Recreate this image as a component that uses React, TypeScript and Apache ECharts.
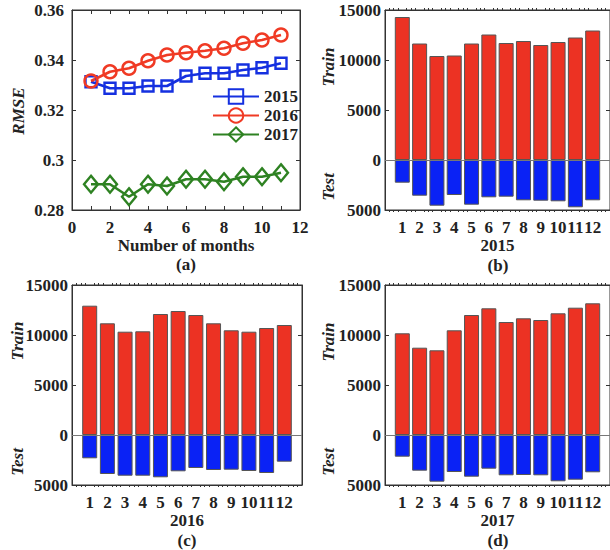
import React, { useEffect, useRef } from "react";
import * as echarts from "echarts";

// ---- Data ----
const lineMonths = [1, 2, 3, 4, 5, 6, 7, 8, 9, 10, 11];
const rmse2015 = [0.3313, 0.3287, 0.3287, 0.3296, 0.3296, 0.3336, 0.3347, 0.3347, 0.336, 0.3369, 0.3387];
const rmse2016 = [0.3316, 0.3353, 0.3367, 0.3397, 0.342, 0.3429, 0.3437, 0.3447, 0.3467, 0.348, 0.35];
const rmse2017 = [0.2903, 0.2903, 0.2853, 0.2903, 0.2896, 0.2923, 0.2923, 0.2913, 0.2933, 0.2933, 0.2949];

const barMonths = [1, 2, 3, 4, 5, 6, 7, 8, 9, 10, 11, 12];
const train2015 = [14300, 11650, 10400, 10450, 11650, 12550, 11700, 11900, 11500, 11800, 12250, 12950];
const test2015 = [2270, 3570, 4570, 3500, 4470, 3730, 3670, 4030, 4070, 4130, 4730, 4030];
const train2016 = [12930, 11170, 10330, 10370, 12100, 12400, 12000, 11170, 10470, 10330, 10700, 11000];
const test2016 = [2330, 3900, 4070, 4070, 4230, 3630, 3300, 3500, 3470, 3600, 3800, 2670];
const train2017 = [10170, 8730, 8470, 10470, 12000, 12670, 11300, 11670, 11500, 12170, 12730, 13170];
const test2017 = [2170, 3570, 4670, 3700, 4170, 3370, 4030, 4000, 4030, 4630, 4470, 3730];

const yearLabels = ["2015", "2016", "2017"];
const panelLabels = ["(a)", "(b)", "(c)", "(d)"];

const FONT = "'Liberation Serif', 'Times New Roman', serif";
const AX = "#333333";
const RED = "#EC3223";
const BLUE = "#0A22F5";

export default function App() {
  const ref = useRef<HTMLDivElement>(null);
  useEffect(() => {
    if (!ref.current) return;
    const chart = echarts.init(ref.current, null, { renderer: "svg" });

    const grids = [
      { left: 72, top: 10, width: 228, height: 200 },
      { left: 385, top: 10, width: 230, height: 200 },
      { left: 72, top: 285, width: 230, height: 200 },
      { left: 385, top: 285, width: 230, height: 200 },
    ].map((g) => ({ ...g, show: true, borderColor: AX, borderWidth: 1 }));

    const labelStyle = { fontFamily: FONT, fontWeight: "bold" as const, fontSize: 17, color: "#222" };
    const xAxes: any[] = [];
    const yAxes: any[] = [];

    // panel a axes
    const aX = { type: "value", min: 0, max: 12, interval: 2 };
    xAxes.push({
      ...aX, gridIndex: 0, position: "bottom",
      name: "Number of months", nameLocation: "middle", nameGap: 25,
      nameTextStyle: { fontFamily: FONT, fontWeight: "bold", fontSize: 17, color: "#222" },
      axisLine: { show: true, onZero: false, lineStyle: { color: AX } },
      axisTick: { show: true, inside: true, length: 4, lineStyle: { color: AX } },
      minorTick: { show: true, splitNumber: 2, length: 4, lineStyle: { color: AX } },
      axisLabel: { ...labelStyle, margin: 9 },
      splitLine: { show: false },
    });
    xAxes.push({
      ...aX, gridIndex: 0, position: "top",
      axisLine: { show: true, onZero: false, lineStyle: { color: AX } },
      axisTick: { show: true, inside: true, length: 4, lineStyle: { color: AX } },
      minorTick: { show: true, splitNumber: 2, length: 4, lineStyle: { color: AX } },
      axisLabel: { show: false },
      splitLine: { show: false },
    });
    const aY = { type: "value", min: 0.28, max: 0.36, interval: 0.02 };
    yAxes.push({
      ...aY, gridIndex: 0, position: "left",
      axisLine: { show: true, onZero: false, lineStyle: { color: AX } },
      axisTick: { show: true, inside: true, length: 4, lineStyle: { color: AX } },
      axisLabel: { ...labelStyle, margin: 8 },
      splitLine: { show: false },
    });
    yAxes.push({
      ...aY, gridIndex: 0, position: "right",
      axisLine: { show: true, onZero: false, lineStyle: { color: AX } },
      axisTick: { show: true, inside: true, length: 4, lineStyle: { color: AX } },
      axisLabel: { show: false },
      splitLine: { show: false },
    });

    // bar panels axes
    for (let g = 1; g <= 3; g++) {
      const bx = { type: "value", min: 0, max: 13, interval: 1 };
      xAxes.push({
        ...bx, gridIndex: g, position: "bottom",
        name: yearLabels[g - 1], nameLocation: "middle", nameGap: 27,
        nameTextStyle: { fontFamily: FONT, fontWeight: "bold", fontSize: 17, color: "#222" },
        axisLine: { show: true, onZero: false, lineStyle: { color: AX } },
        axisTick: { show: false },
        minorTick: { show: true, splitNumber: 4, length: 2, lineStyle: { color: AX } },
        axisLabel: {
          ...labelStyle, margin: 9, showMinLabel: false, showMaxLabel: false,
          formatter: (v: number) => (v >= 1 && v <= 12 ? String(v) : ""),
        },
        splitLine: { show: false },
      });
      xAxes.push({
        ...bx, gridIndex: g, position: "top",
        axisLine: { show: true, onZero: false, lineStyle: { color: AX } },
        axisTick: { show: false },
        minorTick: { show: true, splitNumber: 4, length: 2, lineStyle: { color: AX } },
        axisLabel: { show: false },
        splitLine: { show: false },
      });
      const by = { type: "value", min: -5000, max: 15000, interval: 5000 };
      yAxes.push({
        ...by, gridIndex: g, position: "left",
        axisLine: { show: true, onZero: false, lineStyle: { color: AX } },
        axisTick: { show: true, inside: true, length: 4, lineStyle: { color: AX } },
        axisLabel: { ...labelStyle, margin: 4, formatter: (v: number) => String(Math.abs(v)) },
        splitLine: { show: false },
      });
      yAxes.push({
        ...by, gridIndex: g, position: "right",
        axisLine: { show: true, onZero: false, lineStyle: { color: AX } },
        axisTick: { show: true, inside: true, length: 4, lineStyle: { color: AX } },
        axisLabel: { show: false },
        splitLine: { show: false },
      });
    }

    const lineSeries = (name: string, vals: number[], color: string, symbol: string, size: any) => ({
      type: "line",
      name,
      xAxisIndex: 0,
      yAxisIndex: 0,
      data: lineMonths.map((m, i) => [m, vals[i]]),
      symbol,
      symbolSize: size,
      showAllSymbol: true,
      lineStyle: { color, width: 2.6 },
      itemStyle: { color: "rgba(255,255,255,0)", borderColor: color, borderWidth: 2.4 },
      z: 3,
    });

    const trains = [train2015, train2016, train2017];
    const tests = [test2015, test2016, test2017];
    const barSeries: any[] = [];
    for (let g = 1; g <= 3; g++) {
      barSeries.push({
        type: "bar",
        xAxisIndex: 2 * g,
        yAxisIndex: 2 * g,
        data: barMonths.map((m, i) => [m, trains[g - 1][i]]),
        barWidth: 15,
        barGap: "-100%",
        itemStyle: { color: RED, borderColor: "#555", borderWidth: 1 },
        markLine: {
          silent: true,
          symbol: "none",
          label: { show: false },
          lineStyle: { color: "#777", width: 1, type: "solid" },
          data: [{ yAxis: 0 }],
        },
      });
      barSeries.push({
        type: "bar",
        xAxisIndex: 2 * g,
        yAxisIndex: 2 * g,
        data: barMonths.map((m, i) => [m, -tests[g - 1][i]]),
        barWidth: 15,
        barGap: "-100%",
        itemStyle: { color: BLUE, borderColor: "#555", borderWidth: 1 },
      });
    }

    const rotText = (text: string, x: number, y: number) => ({
      type: "text",
      x,
      y,
      rotation: Math.PI / 2,
      style: {
        text,
        fontFamily: FONT,
        fontWeight: "bold",
        fontStyle: "italic",
        fontSize: 17,
        fill: "#222",
        align: "center",
        verticalAlign: "middle",
      },
    });
    const capText = (text: string, x: number, y: number) => ({
      type: "text",
      x,
      y,
      style: {
        text,
        fontFamily: FONT,
        fontWeight: "bold",
        fontSize: 17,
        fill: "#222",
        align: "center",
        verticalAlign: "middle",
      },
    });

    chart.setOption({
      animation: false,
      backgroundColor: "#fff",
      grid: grids,
      xAxis: xAxes,
      yAxis: yAxes,
      legend: {
        data: ["2015", "2016", "2017"],
        left: 212,
        top: 88,
        padding: 0,
        orient: "vertical",
        itemWidth: 46,
        itemHeight: 18,
        itemGap: 2,
        textStyle: { fontFamily: FONT, fontWeight: "bold", fontSize: 17, color: "#222" },
      },
      series: [
        lineSeries("2015", rmse2015, "#1530E0", "rect", 11),
        lineSeries("2016", rmse2016, "#F03A24", "circle", 13),
        lineSeries("2017", rmse2017, "#2E8222", "diamond", [14, 17]),
        ...barSeries,
      ],
      graphic: [
        rotText("RMSE", 18, 111),
        rotText("Train", 328, 67),
        rotText("Test", 328, 187),
        rotText("Train", 17, 341),
        rotText("Test", 17, 462),
        rotText("Train", 328, 342),
        rotText("Test", 328, 462),
        capText(panelLabels[0], 186, 264),
        capText(panelLabels[1], 498, 265),
        capText(panelLabels[2], 187, 540),
        capText(panelLabels[3], 498, 540),
      ],
    });
    return () => chart.dispose();
  }, []);
  return (
    <div
      ref={ref}
      style={{ position: "absolute", left: 0, top: 0, width: 610, height: 550 }}
    />
  );
}
